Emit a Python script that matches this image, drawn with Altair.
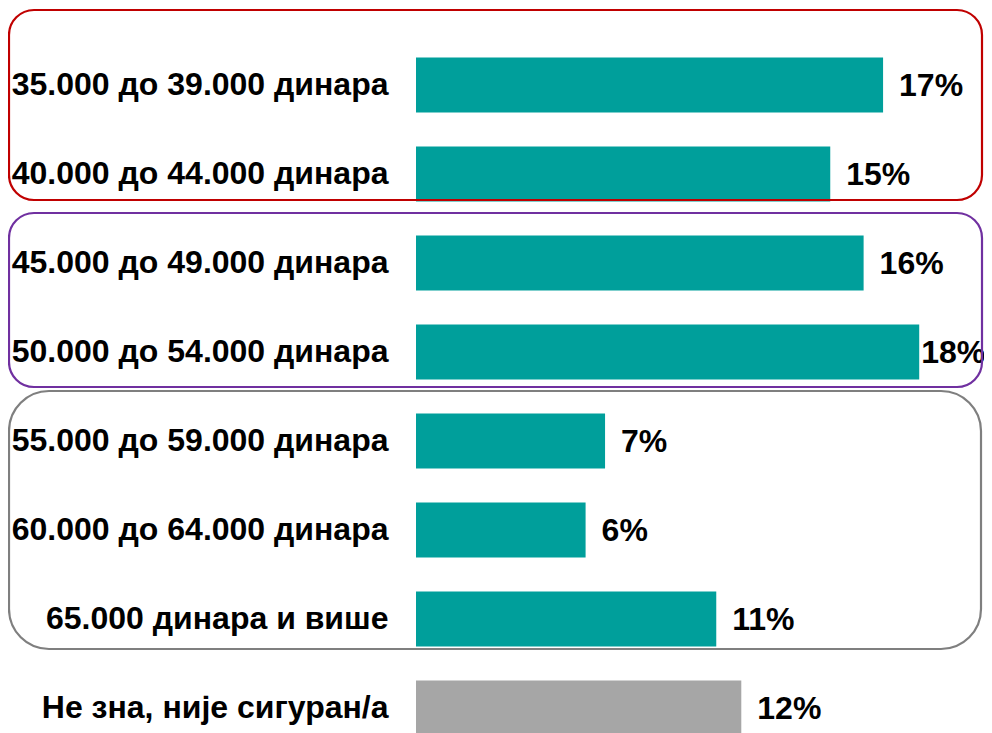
import altair as alt
import pandas as pd

categories = [
    "35.000 до 39.000 динара",
    "40.000 до 44.000 динара",
    "45.000 до 49.000 динара",
    "50.000 до 54.000 динара",
    "55.000 до 59.000 динара",
    "60.000 до 64.000 динара",
    "65.000 динара и више",
    "Не зна, није сигуран/а",
]
values = [16.8, 14.9, 16.1, 18.1, 6.8, 6.1, 10.8, 11.7]
labels = ["17%", "15%", "16%", "18%", "7%", "6%", "11%", "12%"]
bar_colors = ["#009F9B"] * 7 + ["#A6A6A6"]

df = pd.DataFrame({"cat": categories, "v": values, "lab": labels, "col": bar_colors})

# group frames (decoration): plot-area pixel coordinates
box_x = [-407, -407, -407]
box_x2 = [566, 566, 565]
box_y = [2, 205, 383]
box_y2 = [192, 379, 641]
box_stroke = ["#C00000", "#7030A0", "#7F7F7F"]
box_radius = [25, 25, 40]

FONT = "Liberation Sans"
FS = 32

y_enc = alt.Y(
    "cat:N",
    sort=categories,
    scale=alt.Scale(range=[49.5, 727.5], paddingInner=0.382, paddingOuter=0),
    axis=alt.Axis(
        title=None, ticks=False, domain=False, grid=False,
        labelFont=FONT, labelFontSize=FS, labelFontWeight="bold",
        labelColor="black", labelPadding=28, labelLimit=0,
    ),
)
x_scale = alt.Scale(domain=[0, 20.43], nice=False, zero=True)

base = alt.Chart(df)

bars = base.mark_bar().encode(
    y=y_enc,
    x=alt.X("v:Q", scale=x_scale, axis=None),
    color=alt.Color("col:N", scale=None),
)

text_common = dict(align="left", baseline="middle", font=FONT,
                   fontSize=FS, fontWeight="bold", color="black", dy=1)

txt = base.transform_filter("datum.v < 18").mark_text(dx=16, **text_common).encode(
    y=y_enc,
    x=alt.X("v:Q", axis=None),
    text="lab:N",
)
txt_max = base.transform_filter("datum.v >= 18").mark_text(dx=2, **text_common).encode(
    y=y_enc,
    x=alt.X("v:Q", axis=None),
    text="lab:N",
)

layers = [bars, txt, txt_max]
for i in range(3):
    box = alt.Chart(pd.DataFrame({"k": [i]})).mark_rect(
        fillOpacity=0, fill="white", stroke=box_stroke[i], strokeWidth=2.2,
        cornerRadius=box_radius[i],
    ).encode(
        x=alt.value(box_x[i]), x2=alt.value(box_x2[i]),
        y=alt.value(box_y[i]), y2=alt.value(box_y2[i]),
    )
    layers.append(box)

chart = alt.layer(*layers).properties(
    width=568,
    height=725,
    background="white",
    autosize=alt.AutoSizeParams(type="none"),
    padding={"left": 408, "top": 0, "right": 0, "bottom": 0},
).configure_view(stroke=None, strokeWidth=0).configure_axis(grid=False)

chart.save("out.html", embed_options={"renderer": "svg", "actions": False})
